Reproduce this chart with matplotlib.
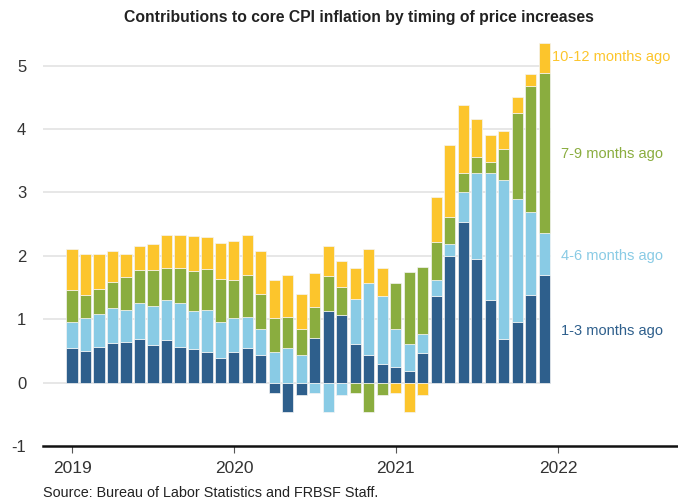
import matplotlib
matplotlib.use("Agg")
import matplotlib.pyplot as plt
import numpy as np

plt.rcParams['font.family'] = ['Liberation Sans', 'DejaVu Sans']
plt.rcParams['axes.unicode_minus'] = False

# monthly contributions, Jan 2019 .. Dec 2021 (percentage points)
m1_3 = [0.55, 0.50, 0.56, 0.63, 0.64, 0.68, 0.59, 0.67, 0.56, 0.53, 0.48, 0.39,
        0.48, 0.55, 0.44, -0.17, -0.46, -0.20, 0.71, 1.13, 1.07, 0.61, 0.44, 0.29,
        0.25, 0.18, 0.47, 1.36, 1.99, 2.53, 1.95, 1.31, 0.68, 0.95, 1.38, 1.69]
m4_6 = [0.41, 0.52, 0.52, 0.54, 0.50, 0.57, 0.62, 0.64, 0.69, 0.60, 0.67, 0.57,
        0.54, 0.48, 0.40, 0.48, 0.55, 0.44, -0.17, -0.46, -0.20, 0.71, 1.13, 1.08,
        0.60, 0.43, 0.29, 0.25, 0.19, 0.47, 1.35, 1.99, 2.52, 1.94, 1.31, 0.67]
m7_9 = [0.50, 0.36, 0.39, 0.42, 0.52, 0.52, 0.57, 0.50, 0.55, 0.63, 0.64, 0.68,
        0.59, 0.67, 0.56, 0.54, 0.48, 0.40, 0.48, 0.55, 0.44, -0.17, -0.46, -0.20,
        0.72, 1.14, 1.07, 0.61, 0.43, 0.30, 0.26, 0.18, 0.48, 1.36, 1.99, 2.53]
m10_12 = [0.64, 0.65, 0.55, 0.49, 0.36, 0.38, 0.40, 0.52, 0.52, 0.55, 0.51, 0.56,
          0.63, 0.63, 0.68, 0.59, 0.67, 0.56, 0.54, 0.48, 0.40, 0.48, 0.54, 0.44,
          -0.17, -0.46, -0.20, 0.70, 1.13, 1.07, 0.60, 0.43, 0.29, 0.25, 0.19, 0.47]

series = [m1_3, m4_6, m7_9, m10_12]
names = ['1-3 months ago', '4-6 months ago', '7-9 months ago', '10-12 months ago']
colors = ['#2e5f8c', '#89cbe5', '#8aad3f', '#fcc52c']
label_y = [0.82, 2.0, 3.61, 5.13]
years = ['2019', '2020', '2021', '2022']

fig = plt.figure(figsize=(6.78, 5.04), dpi=100)
ax = fig.add_axes([0.0634, 0.1151, 0.9366, 0.8115])

x = np.arange(len(m1_3))
pos_bottom = np.zeros(len(x))
neg_bottom = np.zeros(len(x))
for vals, c in zip(series, colors):
    v = np.array(vals)
    bottom = np.where(v >= 0, pos_bottom, neg_bottom)
    ax.bar(x, v, width=0.82, bottom=bottom, color=c, edgecolor='#f4f4f4',
           linewidth=0.5, zorder=3)
    pos_bottom += np.where(v >= 0, v, 0)
    neg_bottom += np.where(v < 0, v, 0)

ax.set_xlim(-2.15, 44.9)
ax.set_ylim(-1, 5.45)
ax.hlines(range(0, 6), -2.15, len(x) - 0.5, color='#e3e3e3', linewidth=1.2, zorder=1)

for name, c, ly in zip(names, colors, label_y):
    xoff = 35.6 if name.startswith('10') else 36.2
    ax.text(xoff, ly, name, color=c, fontsize=10.5, va='center', ha='left')

ax.set_yticks(range(-1, 6))
ax.set_xticks([0, 12, 24, 36])
ax.set_xticklabels(years)
ax.tick_params(axis='y', length=0, labelsize=12, labelcolor='#333333', pad=12)
ax.tick_params(axis='x', length=5, color='#555555', labelsize=12.5,
               labelcolor='#333333', pad=6)
for s in ['top', 'right', 'left']:
    ax.spines[s].set_visible(False)
ax.spines['bottom'].set_linewidth(1.8)
ax.spines['bottom'].set_color('#111111')

fig.text(0.530, 0.966, 'Contributions to core CPI inflation by timing of price increases',
         ha='center', va='center', fontsize=11.3, fontweight='bold', color='#222222')
fig.text(0.063, 0.022, 'Source: Bureau of Labor Statistics and FRBSF Staff.',
         ha='left', va='center', fontsize=10.4, color='#222222')

fig.savefig('out.png', dpi=100)
